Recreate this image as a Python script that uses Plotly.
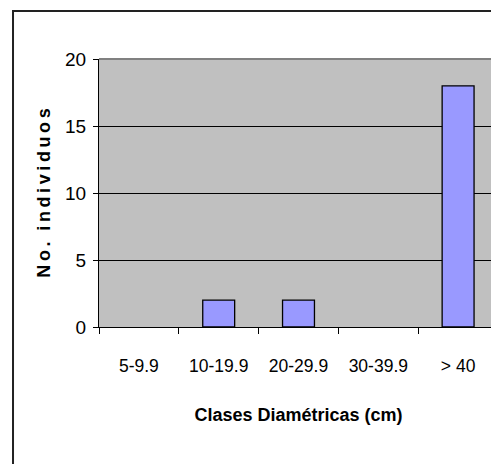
import plotly.graph_objects as go

clases = ["5-9.9", "10-19.9", "20-29.9", "30-39.9", "> 40"]
individuos = [0, 2, 2, 0, 18]

font_ticks = "Liberation Sans, Arial, sans-serif"
ts = "\u2009"  # thin space for the letter-spaced axis title
ytitle = ts.join("No.") + ts * 3 + ts.join("individuos")

fig = go.Figure(
    go.Bar(
        x=clases,
        y=individuos,
        width=0.4,
        marker=dict(
            color="#9999FF",
            # no outline on empty classes
            line=dict(color="black", width=[0 if v == 0 else 1.3 for v in individuos]),
        ),
    )
)

# page body adds an 8px offset, so the figure is sized 8px smaller
fig.update_layout(
    width=491,
    height=456,
    margin=dict(l=91, r=1, t=51, b=137, autoexpand=False),
    paper_bgcolor="white",
    plot_bgcolor="#C0C0C0",
    showlegend=False,
    font=dict(family=font_ticks, color="black"),
    shapes=[
        # outer chart frame
        dict(type="rect", xref="paper", yref="paper",
             x0=-0.2155, x1=1.2, y0=-0.7, y1=1.179,
             line=dict(color="#222222", width=2)),
        # plot area border (top / right)
        dict(type="line", xref="paper", yref="paper",
             x0=0, x1=1, y0=1, y1=1, line=dict(color="#808080", width=2)),
        dict(type="line", xref="paper", yref="paper",
             x0=1, x1=1, y0=0, y1=1, line=dict(color="#808080", width=2)),
    ],
)

fig.update_xaxes(
    type="category",
    tickson="boundaries",
    tickangle=0,
    ticks="outside",
    ticklen=6,
    tickcolor="black",
    showline=True,
    linecolor="black",
    linewidth=1,
    showgrid=False,
    tickfont=dict(size=17.5),
    ticklabelstandoff=23,
    title=dict(text="<b>Clases Diamétricas (cm)</b>", font=dict(size=18), standoff=33),
)

fig.update_yaxes(
    range=[0, 20],
    dtick=5,
    ticks="outside",
    ticklen=5,
    tickcolor="black",
    showline=True,
    linecolor="black",
    linewidth=1,
    gridcolor="black",
    gridwidth=1,
    zeroline=False,
    tickfont=dict(size=19),
    ticklabelstandoff=3,
    title=dict(text="<b>" + ytitle + "</b>", font=dict(size=18), standoff=9),
)

fig.write_html("out.html")
